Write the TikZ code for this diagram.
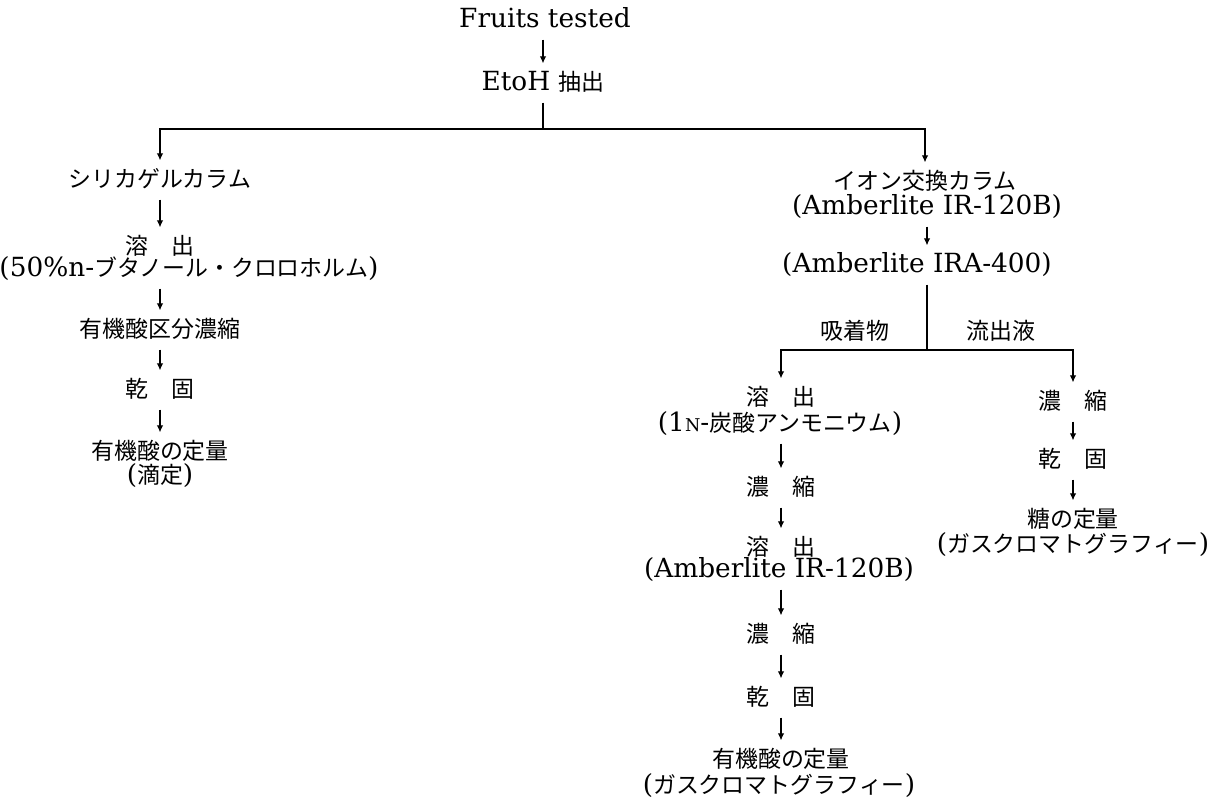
\documentclass[tikz,border=0pt]{standalone}
\usepackage{fontspec}
\setmainfont{DejaVu Serif}
\newfontfamily\jp[Scale=0.87]{Noto Sans CJK JP}
\usetikzlibrary{arrows.meta,positioning,calc}

\begin{document}
\begin{tikzpicture}[
  x=0.02cm, y=-0.02cm,
  every node/.style={font=\fontsize{15pt}{18pt}\selectfont, inner xsep=0pt, inner ysep=4pt,
    text height=11pt, text depth=3pt},
  arr/.style={-{Latex[length=1.4mm,width=1.3mm]}, line width=0.6pt},
  ln/.style={line width=0.6pt}
]
  \fill[white] (0,0) rectangle (1216,798);
  \useasboundingbox (0,0) rectangle (1216,798);

  \node (fruits) at (545,20) {Fruits tested};
  \node (etoh) at (543,83) {EtoH {\jp 抽出}};
  \coordinate (split1) at (543,129);

  \node (silica) at (160,180) {\jp シリカゲルカラム};
  \node (elute1) at (160,247) {\jp 溶　出};
  \node (eluent1) at (189,269) {(50\%n-{\jp ブタノール・クロロホルム})};
  \node (acidconc) at (160,330) {\jp 有機酸区分濃縮};
  \node (dry1) at (160,390) {\jp 乾　固};
  \node (acid1) at (160,452) {\jp 有機酸の定量};
  \node (titr) at (160,476) {({\jp 滴定})};

  \node (ion) at (925,182) {\jp イオン交換カラム};
  \node (amb1) at (927,207) {(Amberlite IR-120B)};
  \node (ira) at (917,265) {(Amberlite IRA-400)};
  \coordinate (split2) at (927,350);
  \node (adsorb) at (855,332) {\jp 吸着物};
  \node (efflu) at (1001,332) {\jp 流出液};

  \node (elute2) at (781,398) {\jp 溶　出};
  \node (amm) at (780,424) {(1{\fontsize{10pt}{10pt}\selectfont N}-{\jp 炭酸アンモニウム})};
  \node (conc2) at (781,488) {\jp 濃　縮};
  \node (elute3) at (781,548) {\jp 溶　出};
  \node (amb3) at (779,570) {(Amberlite IR-120B)};
  \node (conc4) at (781,635) {\jp 濃　縮};
  \node (dry2) at (781,698) {\jp 乾　固};
  \node (acid2) at (781,760) {\jp 有機酸の定量};
  \node (gc1) at (779,786) {({\jp ガスクロマトグラフィー})};

  \node (conc3) at (1073,402) {\jp 濃　縮};
  \node (dry3) at (1073,460) {\jp 乾　固};
  \node (sugar) at (1073,520) {\jp 糖の定量};
  \node (gc2) at (1073,545) {({\jp ガスクロマトグラフィー})};

  \draw[arr] (fruits.south -| etoh) -- (etoh);
  \draw[ln] (etoh) -- (split1);
  \draw[arr] (split1) -| (silica);
  \draw[arr] (split1) -| (ion);

  \draw[arr] (silica) -- (elute1);
  \draw[arr] (eluent1.south -| acidconc) -- (acidconc);
  \draw[arr] (acidconc) -- (dry1);
  \draw[arr] (dry1) -- (acid1);

  \draw[arr] (amb1) -- (amb1 |- ira.north);
  \draw[ln] (ira.south -| split2) -- (split2);
  \draw[arr] (split2) -| (elute2);
  \draw[arr] (split2) -| (conc3);

  \draw[arr] (amm.south -| conc2) -- (conc2);
  \draw[arr] (conc2) -- (elute3);
  \draw[arr] (amb3.south -| conc4) -- (conc4);
  \draw[arr] (conc4) -- (dry2);
  \draw[arr] (dry2) -- (acid2);

  \draw[arr] (conc3) -- (dry3);
  \draw[arr] (dry3) -- (sugar);
\end{tikzpicture}
\end{document}
